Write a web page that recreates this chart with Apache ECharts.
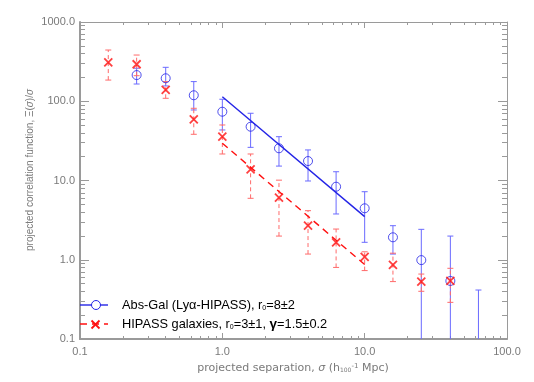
<!DOCTYPE html>
<html>
<head>
<meta charset="utf-8">
<script src="https://cdn.jsdelivr.net/npm/echarts@6/dist/echarts.min.js"></script>
<style>html,body{margin:0;padding:0;background:#fff;}#c{width:534px;height:382px;}</style>
</head>
<body>
<div id="c"></div>
<script>
// ---- data ----
const sepBlue  = [0.25, 0.40, 0.63, 1.0, 1.58, 2.5, 4.0, 6.3, 10, 15.8, 25, 40, 63];
const xiBlue   = [214, 195, 119, 73.8, 47.7, 25.5, 17.6, 8.35, 4.46, 1.92, 0.99, 0.54, null];
const xiBlueLo = [165, 156, 77.6, 43.4, 26.2, 15.2, 9.86, 3.78, 1.66, 1.18, 0.01, 0.01, 0.01];
const xiBlueHi = [261, 268, 177, 106, 70.5, 35.7, 24.3, 12.9, 7.22, 2.69, 2.42, 1.99, 0.415];

const sepRed  = [0.158, 0.25, 0.40, 0.63, 1.0, 1.58, 2.5, 4.0, 6.3, 10, 15.8, 25, 40];
const xiRed   = [310, 293, 139, 59.2, 35.7, 13.8, 6.07, 2.69, 1.66, 1.09, 0.86, 0.53, 0.54];
const xiRedLo = [185, 210, 109, 38.3, 21.6, 5.96, 1.99, 1.18, 0.80, 0.73, 0.53, 0.40, 0.29];
const xiRedHi = [443, 383, 177, 81.5, 50.2, 21.6, 10.1, 4.16, 2.44, 1.26, 1.21, 0.66, 0.78];

const fitBlueX = [1, 10];
const fitBlueY = [114, 3.5];
const fitRedX  = [1, 10];
const fitRedY  = [29.5, 0.87];

const xTickValues = [0.1, 1, 10, 100];
const xTickLabels = ['0.1', '1.0', '10.0', '100.0'];
const yTickValues = [0.1, 1, 10, 100, 1000];
const yTickLabels = ['0.1', '1.0', '10.0', '100.0', '1000.0'];

// minor tick positions (2..9 of each decade)
function minors(lo, hi) {
  const out = [];
  for (let d = lo; d < hi; d *= 10) for (let k = 2; k <= 9; k++) out.push(+(d * k).toPrecision(6));
  return out;
}
const xMinor = minors(0.1, 100);
const yMinor = minors(0.1, 1000);

const BLUE = '#2424e6', BLUE_ERR = '#6a6aff', RED = '#ff1010', RED_ERR = '#ff6a6a';
const AXC = '#9a9a9a', TXT = '#7a7a7a';
const FONT = '"Liberation Sans", Arial, Helvetica, sans-serif';
const WFONT = '"DejaVu Sans", "Liberation Sans", sans-serif';

function labelFmt(vals, labs) {
  return function (v) {
    for (let i = 0; i < vals.length; i++) if (Math.abs(Math.log10(v) - Math.log10(vals[i])) < 1e-6) return labs[i];
    return '';
  };
}

function mkX(pos, major, withLabels, lineW, len) {
  return {
    type: 'log', min: 0.1, max: 100, position: pos, gridIndex: 0,
    axisLine: { show: major, onZero: false, lineStyle: { color: AXC, width: lineW } },
    axisTick: { show: true, inside: true, length: len, customValues: major ? xTickValues : xMinor,
                lineStyle: { color: AXC, width: 1 } },
    axisLabel: { show: withLabels, customValues: xTickValues, formatter: labelFmt(xTickValues, xTickLabels),
                 color: TXT, fontFamily: FONT, fontSize: 11, margin: 7 },
    splitLine: { show: false }, minorTick: { show: false }
  };
}
function mkY(pos, major, withLabels, lineW, len) {
  return {
    type: 'log', min: 0.1, max: 1000, position: pos, gridIndex: 0,
    axisLine: { show: major, onZero: false, lineStyle: { color: AXC, width: lineW } },
    axisTick: { show: true, inside: true, length: len, customValues: major ? yTickValues : yMinor,
                lineStyle: { color: AXC, width: 1 } },
    axisLabel: { show: withLabels, customValues: yTickValues, formatter: labelFmt(yTickValues, yTickLabels),
                 color: TXT, fontFamily: FONT, fontSize: 11, margin: 5 },
    splitLine: { show: false }, minorTick: { show: false }
  };
}

function errData(xs, lo, hi) { return xs.map((x, i) => [x, lo[i], hi[i]]); }
function ptData(xs, ys) { const o = []; xs.forEach((x, i) => { if (ys[i] != null) o.push([x, ys[i]]); }); return o; }

function errRender(color, dash) {
  return function (params, api) {
    const x = api.value(0), lo = api.value(1), hi = api.value(2);
    const a = api.coord([x, lo]), b = api.coord([x, hi]);
    const st = { stroke: color, lineWidth: 1, lineDash: dash };
    const cw = 3;
    return {
      type: 'group', children: [
        { type: 'line', shape: { x1: a[0], y1: a[1], x2: b[0], y2: b[1] }, style: st },
        { type: 'line', shape: { x1: b[0] - cw, y1: b[1], x2: b[0] + cw, y2: b[1] }, style: { stroke: color, lineWidth: 1 } },
        { type: 'line', shape: { x1: a[0] - cw, y1: a[1], x2: a[0] + cw, y2: a[1] }, style: { stroke: color, lineWidth: 1 } }
      ]
    };
  };
}

const XPATH = 'path://M0 0L10 10M10 0L0 10';

const chart = echarts.init(document.getElementById('c'), null, { renderer: 'canvas' });
chart.setOption({
  backgroundColor: '#ffffff',
  animation: false,
  textStyle: { fontFamily: FONT },
  grid: { left: 80, top: 22, right: 27, bottom: 43, containLabel: false },
  xAxis: [
    mkX('bottom', true, true, 2, 6),
    mkX('bottom', false, false, 1, 3),
    mkX('top', true, false, 1, 6),
    mkX('top', false, false, 1, 3)
  ],
  yAxis: [
    mkY('left', true, true, 2, 9),
    mkY('left', false, false, 1, 5),
    mkY('right', true, false, 1, 9),
    mkY('right', false, false, 1, 5)
  ],
  series: [
    { type: 'custom', xAxisIndex: 0, yAxisIndex: 0, clip: true, renderItem: errRender(BLUE_ERR, null),
      data: errData(sepBlue, xiBlueLo, xiBlueHi), encode: { x: 0, y: [1, 2] }, z: 2 },
    { type: 'custom', xAxisIndex: 0, yAxisIndex: 0, clip: true, renderItem: errRender(RED_ERR, [4, 3]),
      data: errData(sepRed, xiRedLo, xiRedHi), encode: { x: 0, y: [1, 2] }, z: 2 },
    { type: 'line', xAxisIndex: 0, yAxisIndex: 0, data: fitBlueX.map((x, i) => [x, fitBlueY[i]]),
      symbol: 'none', lineStyle: { color: BLUE, width: 1.4 }, z: 3 },
    { type: 'line', xAxisIndex: 0, yAxisIndex: 0, data: fitRedX.map((x, i) => [x, fitRedY[i]]),
      symbol: 'none', lineStyle: { color: RED, width: 1.4, type: [7, 5] }, z: 3 },
    { type: 'scatter', xAxisIndex: 0, yAxisIndex: 0, data: ptData(sepBlue, xiBlue), symbol: 'circle', symbolSize: 9,
      itemStyle: { color: 'rgba(0,0,0,0)', borderColor: BLUE, borderWidth: 1 }, z: 4 },
    { type: 'scatter', xAxisIndex: 0, yAxisIndex: 0, data: ptData(sepRed, xiRed), symbol: XPATH, symbolSize: 8,
      itemStyle: { color: 'rgba(0,0,0,0)', borderColor: RED, borderWidth: 1.8 }, z: 5 }
  ],
  graphic: [
    // legend
    { type: 'line', shape: { x1: 80, y1: 305, x2: 108, y2: 305 }, style: { stroke: BLUE, lineWidth: 1.4 }, z: 10 },
    { type: 'circle', shape: { cx: 96, cy: 305, r: 4.5 }, style: { fill: '#fff', stroke: BLUE, lineWidth: 1 }, z: 11 },
    { type: 'line', shape: { x1: 80, y1: 324, x2: 108, y2: 324 }, style: { stroke: RED, lineWidth: 1.4, lineDash: [7, 5] }, z: 10 },
    { type: 'polyline', shape: { points: [[91.5, 320.5], [99.5, 328.5]] }, style: { stroke: RED, lineWidth: 1.8 }, z: 11 },
    { type: 'polyline', shape: { points: [[99.5, 320.5], [91.5, 328.5]] }, style: { stroke: RED, lineWidth: 1.8 }, z: 11 },
    { type: 'text', x: 122, y: 305, z: 11,
      style: { text: 'Abs-Gal (Lyα-HIPASS), r{sub|0}=8±2', fill: '#000', font: '12.8px ' + FONT, verticalAlign: 'middle',
               rich: { sub: { fontSize: 7, fill: '#000', fontFamily: FONT, verticalAlign: 'bottom', padding: [4, 0, 0, 0] } } } },
    { type: 'text', x: 122, y: 324, z: 11,
      style: { text: 'HIPASS galaxies, r{sub|0}=3±1, {b|γ}=1.5±0.2', fill: '#000', font: '12.8px ' + FONT, verticalAlign: 'middle',
               rich: { sub: { fontSize: 7, fill: '#000', fontFamily: FONT, verticalAlign: 'bottom', padding: [4, 0, 0, 0] },
                       b: { fontSize: 13.5, fontWeight: 'bold', fill: '#000', fontFamily: FONT } } } },
    // axis titles
    { type: 'text', x: 293, y: 368, z: 11,
      style: { text: 'projected separation, {i|σ} (h{sub|100}{sup|-1} Mpc)', fill: TXT, font: '11px ' + WFONT,
               align: 'center', verticalAlign: 'middle',
               rich: { i: { fontStyle: 'italic', fontSize: 11, fill: TXT, fontFamily: WFONT },
                       sub: { fontSize: 6, fill: TXT, fontFamily: WFONT, verticalAlign: 'bottom', padding: [4, 0, 0, 0] },
                       sup: { fontSize: 7, fill: TXT, fontFamily: WFONT, verticalAlign: 'top', padding: [0, 0, 4, 0] } } } },
    { type: 'text', x: 30, y: 170, rotation: Math.PI / 2, z: 11,
      style: { text: 'projected correlation function, Ξ({i|σ})/{i|σ}', fill: TXT, font: '10px ' + FONT,
               align: 'center', verticalAlign: 'middle',
               rich: { i: { fontStyle: 'italic', fontSize: 10, fill: TXT, fontFamily: FONT } } } }
  ]
});
</script>
</body>
</html>
